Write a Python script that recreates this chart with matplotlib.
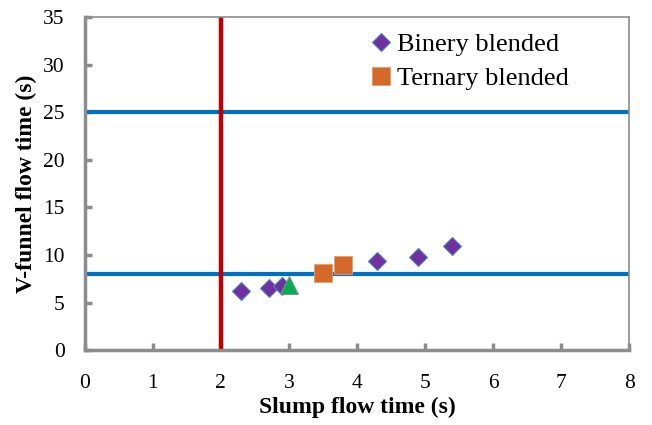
import matplotlib.pyplot as plt

plt.rcParams['font.family'] = ['Liberation Serif', 'DejaVu Serif']

# slump flow time (s) vs V-funnel flow time (s)
binary_x = [2.3, 2.7, 2.9, 4.3, 4.9, 5.4]
binary_y = [6.2, 6.5, 6.7, 9.4, 9.8, 10.9]
ternary_x = [3.5, 3.8]
ternary_y = [8.1, 8.9]
other_x = [3.0]
other_y = [6.9]

# acceptance limits
vf_limits = [8, 25]
slump_limit = 2

xticks = list(range(0, 9))
yticks = list(range(0, 36, 5))

fig = plt.figure(figsize=(6.52, 4.25), dpi=100)
ax = fig.add_axes([0.130, 0.176, 0.835, 0.784])

for y in vf_limits:
    ax.axhline(y, color='#0070C0', lw=3, zorder=2)
ax.axvline(slump_limit, color='#C00000', lw=3.2, zorder=2)

ax.plot(binary_x, binary_y, 'D', ms=9.5, mfc='#7030A0', mec='#4F81BD',
        mew=0.8, ls='none', label='Binery blended', zorder=3)
ax.plot(other_x, other_y, '^', ms=13, mfc='#00B050', mec='#8C8C8C',
        mew=0.8, ls='none', zorder=4)
ax.plot(ternary_x, ternary_y, 's', ms=13.5, mfc='#D4692A', mec='#E0A070',
        mew=0.6, ls='none', label='Ternary blended', zorder=3)

ax.set_xlim(0, 8)
ax.set_ylim(0, 35)
ax.set_xticks(xticks)
ax.set_yticks(yticks)

for side in ['left', 'bottom', 'top', 'right']:
    ax.spines[side].set_color('#8C8C8C')
ax.spines['left'].set_linewidth(2.5)
ax.spines['bottom'].set_linewidth(2.5)
ax.spines['top'].set_linewidth(1.2)
ax.spines['right'].set_linewidth(1.2)

ax.tick_params(direction='in', length=5, width=2.5, color='#8C8C8C',
               labelsize=15.5)
ax.tick_params(axis='x', pad=17)
ax.tick_params(axis='y', pad=14.5)

ax.set_xlabel('Slump flow time (s)', fontsize=17, fontweight='bold')
ax.set_ylabel('V-funnel flow time (s)', fontsize=17, fontweight='bold')
ax.xaxis.set_label_coords(0.5, -0.14)
ax.yaxis.set_label_coords(-0.088, 0.5)

ax.legend(loc='upper left', bbox_to_anchor=(0.5, 1.0), frameon=False,
          fontsize=19, handlelength=0.6, handletextpad=0.3, labelspacing=0.4,
          borderaxespad=0.2)

fig.savefig('out.png', dpi=100)
